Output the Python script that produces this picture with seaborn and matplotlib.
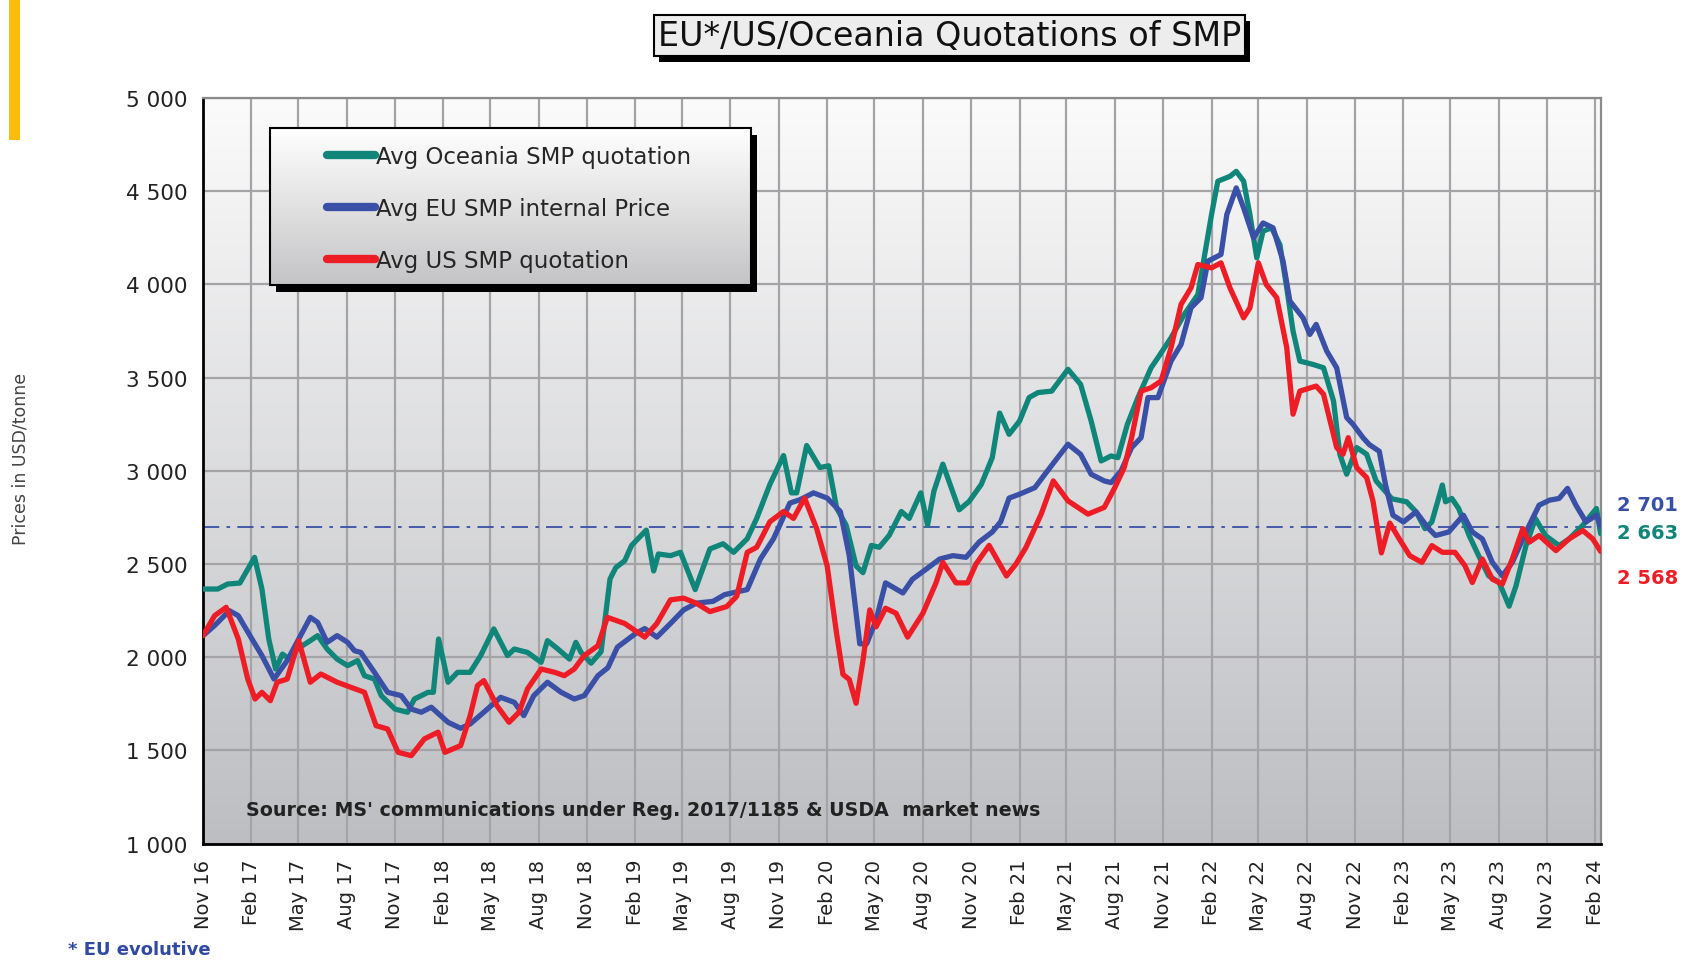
import numpy as np
import pandas as pd
import matplotlib
matplotlib.use("Agg")
import matplotlib.pyplot as plt
import matplotlib.patheffects as pe
from matplotlib.colors import LinearSegmentedColormap
from matplotlib.lines import Line2D
from matplotlib.patches import Rectangle
from matplotlib.ticker import FuncFormatter
import seaborn as sns

# ── DATA (USD/tonne) ─────────────────────────────────────────
series_names = ["Avg Oceania SMP quotation", "Avg EU SMP internal Price", "Avg US SMP quotation"]
series_colors = ["#108579", "#3a4fa6", "#ee1c25"]

oce_dates = [
    "2016-11-01", "2016-11-29", "2016-12-18", "2017-01-10", "2017-02-07", "2017-02-21", "2017-03-06",
    "2017-03-19", "2017-04-01", "2017-04-14", "2017-04-29", "2017-05-24", "2017-06-07", "2017-06-25",
    "2017-07-14", "2017-08-03", "2017-08-22", "2017-09-04", "2017-09-23", "2017-10-06", "2017-11-01",
    "2017-11-25", "2017-12-08", "2018-01-03", "2018-01-13", "2018-01-23", "2018-02-10", "2018-02-28",
    "2018-03-24", "2018-04-13", "2018-05-08", "2018-06-03", "2018-06-16", "2018-07-11", "2018-08-06",
    "2018-08-18", "2018-09-07", "2018-09-29", "2018-10-11", "2018-10-21", "2018-11-09", "2018-11-28",
    "2018-12-15", "2018-12-26", "2019-01-12", "2019-01-25", "2019-02-22", "2019-03-08", "2019-03-17",
    "2019-04-09", "2019-04-28", "2019-05-26", "2019-06-23", "2019-07-18", "2019-08-07", "2019-09-02",
    "2019-09-20", "2019-10-15", "2019-11-10", "2019-11-25", "2019-12-05", "2019-12-24", "2020-01-18",
    "2020-02-04", "2020-02-19", "2020-03-08", "2020-03-27", "2020-04-09", "2020-04-25", "2020-05-10",
    "2020-05-29", "2020-06-21", "2020-07-06", "2020-07-28", "2020-08-10", "2020-08-22", "2020-09-08",
    "2020-10-09", "2020-10-28", "2020-11-20", "2020-12-11", "2020-12-25", "2021-01-12", "2021-02-01",
    "2021-02-19", "2021-03-08", "2021-04-03", "2021-05-04", "2021-05-28", "2021-06-17", "2021-07-06",
    "2021-07-25", "2021-08-07", "2021-08-25", "2021-09-14", "2021-10-09", "2021-10-22", "2021-11-16",
    "2021-12-11", "2022-01-06", "2022-01-18", "2022-02-01", "2022-02-13", "2022-03-08", "2022-03-20",
    "2022-04-03", "2022-04-15", "2022-04-28", "2022-05-10", "2022-05-26", "2022-06-11", "2022-06-24",
    "2022-07-06", "2022-07-19", "2022-08-13", "2022-09-02", "2022-09-21", "2022-10-03", "2022-10-16",
    "2022-11-04", "2022-11-23", "2022-12-11", "2023-01-10", "2023-02-07", "2023-02-25", "2023-03-14",
    "2023-03-27", "2023-04-16", "2023-04-22", "2023-05-04", "2023-05-17", "2023-06-06", "2023-06-24",
    "2023-07-13", "2023-08-02", "2023-08-21", "2023-09-03", "2023-09-22", "2023-10-10", "2023-10-29",
    "2023-11-24", "2023-12-13", "2024-01-08", "2024-02-03", "2024-02-11",
]
oce_vals = [
    2366, 2366, 2393, 2398, 2536, 2366, 2098,
    1937, 2017, 1990, 2044, 2089, 2116, 2044,
    1990, 1955, 1982, 1901, 1883, 1794, 1722,
    1705, 1776, 1812, 1812, 2098, 1866, 1919,
    1919, 2009, 2152, 2009, 2044, 2026, 1973,
    2089, 2044, 1990, 2080, 2026, 1968, 2030,
    2420, 2481, 2518, 2600, 2682, 2463, 2554,
    2545, 2563, 2363, 2581, 2609, 2563, 2636,
    2745, 2927, 3082, 2882, 2882, 3136, 3018,
    3027, 2800, 2709, 2490, 2454, 2600, 2590,
    2654, 2782, 2745, 2882, 2709, 2891, 3036,
    2791, 2836, 2927, 3071, 3310, 3196, 3268,
    3393, 3420, 3428, 3545, 3464, 3268, 3053,
    3080, 3071, 3250, 3393, 3553, 3607, 3714,
    3839, 3946, 4143, 4375, 4554, 4580, 4607,
    4554, 4375, 4143, 4286, 4304, 4214, 3982,
    3750, 3589, 3571, 3553, 3375, 3089, 2982,
    3125, 3089, 2946, 2850, 2834, 2780, 2690,
    2726, 2924, 2834, 2852, 2798, 2653, 2545,
    2437, 2401, 2274, 2383, 2599, 2744, 2653,
    2599, 2635, 2708, 2798, 2663,
]

eu_dates = [
    "2016-11-01", "2016-11-23", "2016-12-21", "2017-01-07", "2017-02-02", "2017-02-21", "2017-03-16",
    "2017-04-10", "2017-05-02", "2017-05-24", "2017-06-07", "2017-06-25", "2017-07-14", "2017-08-03",
    "2017-08-16", "2017-08-28", "2017-09-23", "2017-10-18", "2017-11-13", "2017-12-02", "2017-12-21",
    "2018-01-09", "2018-02-10", "2018-03-06", "2018-03-24", "2018-04-19", "2018-05-21", "2018-06-16",
    "2018-07-04", "2018-07-23", "2018-08-18", "2018-09-13", "2018-10-08", "2018-10-27", "2018-11-22",
    "2018-12-11", "2018-12-29", "2019-02-01", "2019-02-19", "2019-03-14", "2019-04-09", "2019-05-04",
    "2019-05-28", "2019-06-29", "2019-07-21", "2019-09-02", "2019-09-27", "2019-10-22", "2019-11-22",
    "2019-12-11", "2020-01-06", "2020-02-01", "2020-02-26", "2020-03-14", "2020-04-03", "2020-04-16",
    "2020-05-04", "2020-05-22", "2020-06-24", "2020-07-12", "2020-08-07", "2020-09-02", "2020-09-27",
    "2020-10-22", "2020-11-16", "2020-12-11", "2020-12-27", "2021-01-12", "2021-02-01", "2021-03-02",
    "2021-03-26", "2021-05-04", "2021-05-28", "2021-06-17", "2021-07-12", "2021-07-25", "2021-08-13",
    "2021-09-02", "2021-09-20", "2021-10-03", "2021-10-22", "2021-11-16", "2021-12-05", "2021-12-24",
    "2022-01-12", "2022-01-25", "2022-02-19", "2022-03-02", "2022-03-20", "2022-04-03", "2022-04-22",
    "2022-05-10", "2022-05-29", "2022-06-17", "2022-06-30", "2022-07-25", "2022-08-07", "2022-08-19",
    "2022-09-08", "2022-09-27", "2022-10-16", "2022-10-28", "2022-11-16", "2022-11-28", "2022-12-17",
    "2022-12-29", "2023-01-12", "2023-02-01", "2023-02-25", "2023-03-21", "2023-04-03", "2023-04-28",
    "2023-05-26", "2023-06-12", "2023-07-01", "2023-07-20", "2023-08-08", "2023-08-27", "2023-09-22",
    "2023-10-17", "2023-11-06", "2023-11-24", "2023-12-10", "2023-12-26", "2024-01-14", "2024-02-03",
    "2024-02-11",
]
eu_vals = [
    2116, 2170, 2250, 2223, 2098, 2009, 1883,
    1982, 2098, 2214, 2187, 2080, 2116, 2080,
    2035, 2026, 1919, 1812, 1794, 1722, 1705,
    1732, 1651, 1619, 1642, 1705, 1785, 1758,
    1687, 1794, 1866, 1812, 1776, 1794, 1901,
    1944, 2054, 2126, 2154, 2108, 2181, 2254,
    2290, 2300, 2336, 2363, 2527, 2636, 2827,
    2845, 2882, 2854, 2782, 2545, 2072, 2072,
    2199, 2399, 2345, 2418, 2472, 2527, 2545,
    2536, 2618, 2672, 2727, 2854, 2875, 2910,
    3000, 3143, 3089, 2982, 2946, 2937, 3000,
    3125, 3178, 3393, 3393, 3589, 3678, 3875,
    3929, 4125, 4161, 4375, 4518, 4411, 4250,
    4330, 4304, 4125, 3911, 3821, 3732, 3786,
    3643, 3553, 3286, 3250, 3178, 3141, 3105,
    2924, 2762, 2726, 2780, 2690, 2653, 2672,
    2762, 2672, 2635, 2509, 2437, 2509, 2672,
    2816, 2843, 2852, 2906, 2816, 2726, 2762,
    2701,
]

us_dates = [
    "2016-11-01", "2016-11-23", "2016-12-15", "2017-01-07", "2017-01-25", "2017-02-08", "2017-02-21",
    "2017-03-09", "2017-03-22", "2017-04-10", "2017-05-02", "2017-05-24", "2017-06-13", "2017-07-14",
    "2017-08-09", "2017-09-04", "2017-09-26", "2017-10-18", "2017-11-07", "2017-12-02", "2017-12-27",
    "2018-01-22", "2018-02-04", "2018-03-06", "2018-03-24", "2018-04-07", "2018-04-19", "2018-05-14",
    "2018-06-06", "2018-06-25", "2018-07-11", "2018-08-06", "2018-09-01", "2018-09-19", "2018-10-08",
    "2018-10-27", "2018-11-22", "2018-12-10", "2019-01-12", "2019-02-19", "2019-03-14", "2019-04-09",
    "2019-05-04", "2019-05-28", "2019-06-23", "2019-07-25", "2019-08-13", "2019-09-02", "2019-09-20",
    "2019-10-15", "2019-11-10", "2019-11-29", "2019-12-20", "2020-01-12", "2020-02-01", "2020-02-19",
    "2020-03-02", "2020-03-14", "2020-03-27", "2020-04-09", "2020-04-22", "2020-05-04", "2020-05-22",
    "2020-06-11", "2020-07-03", "2020-08-01", "2020-08-26", "2020-09-08", "2020-10-03", "2020-10-25",
    "2020-11-10", "2020-12-05", "2021-01-07", "2021-01-25", "2021-02-13", "2021-03-14", "2021-04-06",
    "2021-05-04", "2021-06-11", "2021-07-12", "2021-08-01", "2021-08-19", "2021-09-02", "2021-09-20",
    "2021-10-09", "2021-10-28", "2021-11-16", "2021-12-05", "2021-12-24", "2022-01-06", "2022-02-01",
    "2022-02-19", "2022-03-08", "2022-04-03", "2022-04-15", "2022-05-01", "2022-05-16", "2022-06-05",
    "2022-06-24", "2022-07-06", "2022-07-19", "2022-08-19", "2022-09-02", "2022-09-27", "2022-10-09",
    "2022-10-19", "2022-11-04", "2022-11-23", "2022-12-05", "2022-12-21", "2023-01-06", "2023-01-24",
    "2023-02-13", "2023-03-08", "2023-03-27", "2023-04-16", "2023-05-10", "2023-05-29", "2023-06-12",
    "2023-07-01", "2023-07-20", "2023-08-08", "2023-08-27", "2023-09-16", "2023-09-28", "2023-10-17",
    "2023-11-18", "2023-12-13", "2024-01-08", "2024-01-27", "2024-02-11",
]
us_vals = [
    2116, 2223, 2268, 2098, 1883, 1776, 1812,
    1767, 1866, 1883, 2089, 1866, 1910, 1866,
    1839, 1812, 1633, 1615, 1490, 1472, 1562,
    1598, 1490, 1526, 1687, 1848, 1875, 1740,
    1651, 1705, 1830, 1937, 1919, 1901, 1937,
    2009, 2062, 2214, 2181, 2108, 2181, 2308,
    2317, 2290, 2245, 2272, 2327, 2563, 2590,
    2727, 2782, 2745, 2854, 2690, 2490, 2126,
    1908, 1881, 1753, 1981, 2254, 2163, 2263,
    2236, 2108, 2236, 2399, 2509, 2399, 2399,
    2500, 2600, 2436, 2500, 2589, 2768, 2946,
    2839, 2768, 2804, 2910, 3018, 3178, 3428,
    3446, 3482, 3661, 3893, 3982, 4107, 4089,
    4116, 3982, 3821, 3875, 4116, 4000, 3929,
    3661, 3304, 3428, 3455, 3411, 3125, 3089,
    3178, 3018, 2964, 2839, 2560, 2720, 2635,
    2545, 2509, 2599, 2563, 2563, 2491, 2401,
    2527, 2419, 2392, 2527, 2690, 2617, 2653,
    2572, 2635, 2680, 2635, 2568,
]

tick_start, tick_end = "2016-11-01", "2024-02-01"
x_end = "2024-02-11"

# ── BUILD LONG TABLE ─────────────────────────────────────────
frames = []
for name, d, v in zip(series_names, [oce_dates, eu_dates, us_dates], [oce_vals, eu_vals, us_vals]):
    frames.append(pd.DataFrame({"date": pd.to_datetime(d), "price": v, "series": name}))
df = pd.concat(frames, ignore_index=True)

# ── STYLE ────────────────────────────────────────────────────
sns.set_style("white")
plt.rcParams["font.family"] = ["DejaVu Sans"]

fig = plt.figure(figsize=(16.92, 9.62), dpi=100)
ax = fig.add_axes([0.120, 0.122, 0.826, 0.775])

sns.lineplot(data=df, x="date", y="price", hue="series", hue_order=series_names,
             palette=series_colors, estimator=None, linewidth=3.8, legend=False,
             ax=ax, zorder=3)
for line in ax.lines:
    line.set_solid_joinstyle("round")
    line.set_solid_capstyle("round")

# reference line at latest EU price
ax.axhline(eu_vals[-1], color="#3a4fa6", lw=1.3, ls=(0, (9, 4, 2, 4)), zorder=2)

# gradient plot background
bg = LinearSegmentedColormap.from_list("bg", ["#fbfbfb", "#bdbec2"])
ax.imshow(np.linspace(0, 1, 256).reshape(-1, 1), extent=[0, 1, 0, 1], transform=ax.transAxes,
          aspect="auto", cmap=bg, origin="upper", zorder=0)

# axes, ticks, grid
quarters = pd.date_range(tick_start, tick_end, freq="3MS")
ax.set_xticks(quarters)
ax.set_xticklabels([d.strftime("%b %y") for d in quarters], rotation=90)
ax.set_xlim(pd.Timestamp(tick_start), pd.Timestamp(x_end))
ax.set_ylim(1000, 5000)
ax.set_yticks(range(1000, 5001, 500))
ax.yaxis.set_major_formatter(FuncFormatter(lambda v, _: f"{int(v):,}".replace(",", " ")))
ax.set_axisbelow(True)
ax.grid(True, color="#a4a4a6", lw=1.6)
ax.tick_params(axis="both", direction="out", length=6, width=1.5, color="black",
               labelcolor="#222222", pad=5)
ax.tick_params(axis="x", labelsize=14)
ax.tick_params(axis="y", labelsize=15.5)
ax.set_xlabel("")
ax.set_ylabel("")
for s in ["left", "bottom"]:
    ax.spines[s].set_color("black")
    ax.spines[s].set_linewidth(2)
for s in ["top", "right"]:
    ax.spines[s].set_color("#8a8a8a")
    ax.spines[s].set_linewidth(1.6)

# legend box with gradient + black shadow
lx0, ly0, lx1, ly1 = 0.048, 0.749, 0.392, 0.960
ax.add_patch(Rectangle((lx0 + 0.0045, ly0 - 0.009), lx1 - lx0, ly1 - ly0, transform=ax.transAxes,
                       facecolor="black", edgecolor="none", zorder=4))
lg = LinearSegmentedColormap.from_list("lg", ["#ffffff", "#c4c4c6"])
ax.imshow(np.linspace(0, 1, 256).reshape(-1, 1), extent=[lx0, lx1, ly0, ly1], transform=ax.transAxes,
          aspect="auto", cmap=lg, origin="upper", zorder=4.1)
ax.add_patch(Rectangle((lx0, ly0), lx1 - lx0, ly1 - ly0, transform=ax.transAxes,
                       facecolor="none", edgecolor="black", lw=1.5, zorder=4.2))
handles = [Line2D([], [], color=c, lw=6, solid_capstyle="round") for c in series_colors]
leg = ax.legend(handles, series_names, loc="upper left", bbox_to_anchor=(lx0 + 0.034, ly1 - 0.011),
                frameon=False, fontsize=16.5, handlelength=2.1, handletextpad=0.05,
                labelspacing=1.25, borderaxespad=0)
leg.set_zorder(5)

# source note
ax.text(0.031, 0.046, "Source: MS' communications under Reg. 2017/1185 & USDA  market news",
        transform=ax.transAxes, fontsize=13.7, fontweight="bold", color="#222222",
        va="center", ha="left", zorder=6)

# latest values at right edge
last_vals = [eu_vals[-1], oce_vals[-1], us_vals[-1]]
last_cols = [series_colors[1], series_colors[0], series_colors[2]]
offsets = [120, 5, -140]
for v, c, off in zip(last_vals, last_cols, offsets):
    ax.text(1.012, v + off, f"{v:,}".replace(",", " "), transform=ax.get_yaxis_transform(),
            color=c, fontsize=14, fontweight="bold", va="center", ha="left", clip_on=False)

# title box with shadow
t = fig.text(0.561, 0.962, "EU*/US/Oceania Quotations of SMP", ha="center", va="center",
             fontsize=24, color="#111111",
             bbox=dict(boxstyle="square,pad=0.12", fc="#ededed", ec="black", lw=1.5))
t.get_bbox_patch().set_path_effects([pe.SimplePatchShadow(offset=(4, -4), shadow_rgbFace="black",
                                                          alpha=1.0), pe.Normal()])

# axis title and footnote
fig.text(0.012, 0.523, "Prices in USD/tonne", rotation=90, fontsize=12.5, color="#444444",
         ha="center", va="center")
fig.text(0.040, 0.012, "* EU evolutive", fontsize=13, fontweight="bold", color="#2f4aa0",
         ha="left", va="center")

# yellow accent bar on the far left
fig.patches.append(Rectangle((0.0053, 0.853), 0.0065, 0.147, transform=fig.transFigure,
                             facecolor="#fbbd0b", edgecolor="none"))

fig.savefig("out.png", dpi=100)
